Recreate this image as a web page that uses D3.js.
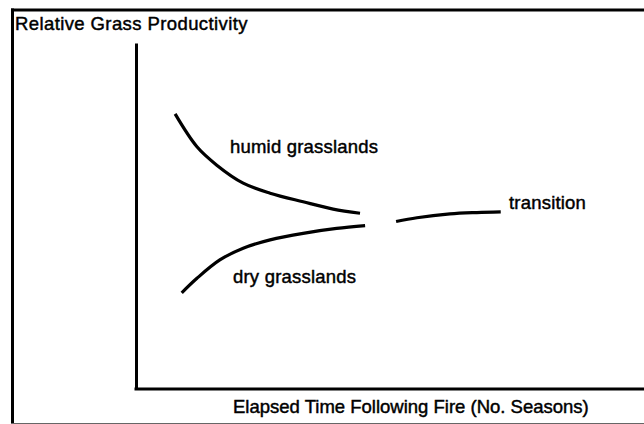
<!DOCTYPE html>
<html>
<head>
<meta charset="utf-8">
<script src="https://cdn.jsdelivr.net/npm/d3@7"></script>
<style>
  html, body { margin: 0; padding: 0; background: #fff; }
  svg { display: block; }
  text { font-family: "Liberation Sans", Arial, Helvetica, sans-serif; fill: #000; stroke: #000; stroke-width: 0.45px; }
</style>
</head>
<body>
<svg id="chart" width="644" height="424"></svg>
<script>
// ---- data (conceptual units: x = elapsed time 0-100, y = relative productivity 0-100) ----
const humidX = [7.7, 12.0, 15.9, 21.1, 26.4, 32.9, 38.8, 44.1];
const humidY = [79.5, 70.0, 64.7, 59.5, 56.6, 54.1, 52.0, 50.8];
const dryX = [9.0, 12.0, 16.5, 21.1, 26.4, 32.9, 39.5, 45.1];
const dryY = [27.8, 32.0, 37.3, 40.7, 43.1, 45.0, 46.4, 47.2];
const transX = [51.2, 55.3, 61.8, 67.1, 71.8];
const transY = [48.4, 49.5, 50.6, 51.0, 51.2];

const titleText = "Relative Grass Productivity";
const xLabelText = "Elapsed Time Following Fire (No. Seasons)";
const seriesLabels = ["humid grasslands", "dry grasslands", "transition"];

const svg = d3.select("#chart");

const x = d3.scaleLinear().domain([0, 100]).range([136, 644]);
const y = d3.scaleLinear().domain([0, 100]).range([389, 43]);

// outer frame (scanned figure border)
svg.append("line").attr("x1", 11).attr("x2", 644).attr("y1", 10).attr("y2", 10)
  .attr("stroke", "#000").attr("stroke-width", 3);
svg.append("line").attr("x1", 12.5).attr("x2", 12.5).attr("y1", 8.5).attr("y2", 424)
  .attr("stroke", "#000").attr("stroke-width", 3);
svg.append("line").attr("x1", 11).attr("x2", 644).attr("y1", 423.5).attr("y2", 423.5)
  .attr("stroke", "#666").attr("stroke-width", 1);

// axes (no ticks)
const gx = svg.append("g").attr("transform", `translate(0,${y(0)})`)
  .call(d3.axisBottom(x).tickValues([]).tickSizeOuter(0));
const gy = svg.append("g").attr("transform", `translate(${x(0)},0)`)
  .call(d3.axisLeft(y).tickValues([]).tickSizeOuter(0));
[gx, gy].forEach(g => g.select(".domain").attr("stroke", "#000").attr("stroke-width", 3));
gx.select(".domain").attr("d", `M${x(0) - 1.5},0H${x(100)}`);

// curves
const line = d3.line().x(d => x(d[0])).y(d => y(d[1])).curve(d3.curveCatmullRom.alpha(0.5));
const series = [
  d3.zip(humidX, humidY),
  d3.zip(dryX, dryY),
  d3.zip(transX, transY)
];
svg.selectAll("path.curve").data(series).enter().append("path")
  .attr("class", "curve")
  .attr("d", line)
  .attr("fill", "none")
  .attr("stroke", "#000")
  .attr("stroke-width", 3.2)
  .attr("stroke-linecap", "butt");

// texts
svg.append("text").attr("x", 15).attr("y", 30)
  .attr("font-size", 18.5).attr("letter-spacing", 0.4).text(titleText);
svg.append("text").attr("x", 233).attr("y", 413)
  .attr("font-size", 18.5).text(xLabelText);

const labelPos = [[230, 153], [233, 283], [509, 209]];
svg.selectAll("text.lab").data(seriesLabels).enter().append("text")
  .attr("class", "lab")
  .attr("x", (d, i) => labelPos[i][0])
  .attr("y", (d, i) => labelPos[i][1])
  .attr("font-size", 18.5)
  .attr("letter-spacing", 0.2)
  .text(d => d);
</script>
</body>
</html>
